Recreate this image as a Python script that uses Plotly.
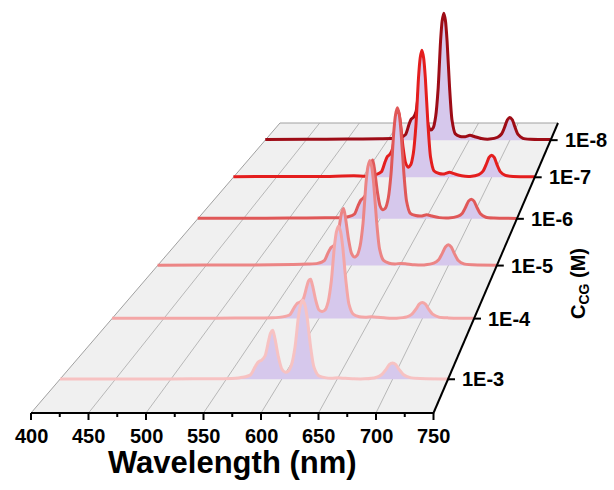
import plotly.graph_objects as go

# ---------------- data ----------------
WAVELENGTH = [400, 450, 500, 540, 555, 565, 572, 576, 579, 582, 585, 588, 590, 592, 594,
              597, 600, 603, 606, 609, 612, 615, 617, 619, 621, 623, 626, 629, 633, 639,
              645, 651, 657, 665, 675, 685, 690, 694, 697, 700, 703, 706, 710, 716, 725, 750]

CONC_LABELS = ["1E-3", "1E-4", "1E-5", "1E-6", "1E-7", "1E-8"]

I_1E3 = [0.3, 0.3, 0.4, 0.6, 0.8, 2.0, 4.7, 12.9, 18.0, 19.9, 24.2, 39.0, 48.1, 50.8, 41.9,
         23.4, 10.9, 7.4, 8.5, 15.6, 33.2, 64.0, 77.1, 82.0, 77.1, 64.0, 34.4, 13.1, 4.1, 1.7,
         1.0, 1.5, 1.0, 0.5, 0.5, 1.9, 4.7, 10.1, 15.2, 16.9, 15.2, 10.1, 4.7, 1.7, 0.8, 0.3]
I_1E4 = [0.4, 0.4, 0.5, 0.7, 0.9, 1.9, 4.4, 12.1, 16.9, 18.5, 22.2, 34.4, 41.9, 43.8, 36.1,
         20.2, 9.7, 8.0, 9.5, 19.0, 41.6, 80.3, 96.8, 103.0, 96.8, 80.3, 43.3, 16.5, 5.2, 2.0,
         1.5, 2.0, 1.5, 0.6, 0.5, 1.9, 5.0, 10.7, 16.0, 17.8, 16.0, 10.7, 4.9, 1.7, 0.8, 0.4]
I_1E5 = [0.5, 0.6, 0.8, 1.2, 1.8, 2.6, 5.8, 15.4, 21.5, 23.7, 29.5, 50.2, 63.3, 67.6, 56.0,
         31.4, 14.7, 10.1, 12.3, 23.5, 50.4, 97.2, 117.1, 124.6, 117.1, 97.2, 52.3, 19.9, 6.2, 2.7,
         2.0, 2.6, 2.0, 1.0, 0.8, 2.8, 6.8, 15.1, 22.1, 24.6, 22.1, 14.8, 6.4, 2.0, 0.9, 0.5]
I_1E6 = [0.6, 0.7, 0.9, 1.2, 1.5, 2.6, 6.1, 17.0, 23.8, 26.5, 32.9, 55.4, 69.5, 74.1, 61.3,
         34.4, 16.2, 11.3, 13.8, 26.2, 56.6, 109.2, 131.6, 140.0, 131.6, 109.2, 58.8, 22.4, 7.0, 4.1,
         3.5, 5.0, 3.5, 1.5, 1.0, 3.0, 6.8, 15.2, 22.3, 24.8, 22.3, 14.9, 6.4, 2.0, 0.9, 0.5]
I_1E7 = [0.8, 1.0, 1.0, 2.0, 1.5, 3.2, 7.3, 19.9, 27.8, 30.9, 38.5, 65.4, 82.4, 88.0, 72.9,
         40.9, 19.3, 13.5, 16.6, 31.7, 68.6, 132.3, 159.4, 169.6, 159.4, 132.3, 71.2, 27.1, 8.5, 5.0,
         4.5, 6.7, 4.5, 2.0, 1.2, 3.6, 8.2, 18.1, 26.5, 29.4, 26.5, 17.6, 7.6, 2.5, 1.2, 0.8]
I_1E8 = [1.0, 1.2, 1.5, 2.0, 2.2, 3.5, 7.8, 21.2, 29.5, 32.6, 40.6, 68.6, 86.3, 92.0, 76.3,
         42.8, 20.2, 14.2, 17.4, 33.4, 72.4, 139.6, 168.3, 179.0, 168.3, 139.6, 75.2, 28.6, 9.0, 5.2,
         4.8, 7.0, 4.8, 2.2, 1.5, 4.1, 9.0, 19.7, 28.8, 32.0, 28.8, 19.2, 8.0, 2.6, 1.2, 1.0]

SERIES = [I_1E3, I_1E4, I_1E5, I_1E6, I_1E7, I_1E8]
LINE_COLORS = ["#f7c2c2", "#f4a6a6", "#ec8585", "#e05858", "#e41e1e", "#9e0c16"]
FILL_COLOR = "#d6c8ec"

X_TICKS = [400, 450, 500, 550, 600, 650, 700, 750]
X_MINOR = [425, 475, 525, 575, 625, 675, 725]

# ---------------- projection (perspective floor) ----------------
WL_MIN, WL_MAX = 400.0, 750.0
X_FRONT_L, X_FRONT_R, Y_FRONT = 31.0, 433.5, 413.0
VX, VY = 836.0, -524.6
DEPTH_K = 0.07463
Z_MAX = 6.0
ROW_Z = [0.5 + i for i in range(len(CONC_LABELS))]


def persp(z):
    return 1.0 / (1.0 + DEPTH_K * z)


def proj(wl, z, h=0.0):
    f = persp(z)
    x0 = X_FRONT_L + (wl - WL_MIN) / (WL_MAX - WL_MIN) * (X_FRONT_R - X_FRONT_L)
    return VX + (x0 - VX) * f, VY + (Y_FRONT - VY) * f - h * f


fig = go.Figure()

# floor
corners = [proj(WL_MIN, 0), proj(WL_MAX, 0), proj(WL_MAX, Z_MAX), proj(WL_MIN, Z_MAX)]
path = "M " + " L ".join(f"{x:.2f},{y:.2f}" for x, y in corners) + " Z"
shapes = [dict(type="path", path=path, xref="x", yref="y", fillcolor="#f0f0f0",
               line=dict(width=0), layer="below")]
for a, b in [(proj(WL_MIN, 0), proj(WL_MIN, Z_MAX)), (proj(WL_MIN, Z_MAX), proj(WL_MAX, Z_MAX))]:
    shapes.append(dict(type="line", xref="x", yref="y", x0=a[0], y0=a[1], x1=b[0], y1=b[1],
                       line=dict(color="#a0a0a0", width=1), layer="below"))
for wl in X_TICKS[1:-1]:
    a, b = proj(wl, 0), proj(wl, Z_MAX)
    shapes.append(dict(type="line", xref="x", yref="y", x0=a[0], y0=a[1], x1=b[0], y1=b[1],
                       line=dict(color="#a8a8a8", width=0.8), layer="below"))

# spectra from back to front
for i in reversed(range(len(CONC_LABELS))):
    z = ROW_Z[i]
    bx0, by0 = proj(WL_MIN, z)
    bx1, by1 = proj(WL_MAX, z)
    fig.add_trace(go.Scatter(x=[bx0, bx1], y=[by0, by1], mode="lines",
                             line=dict(width=0, color="rgba(0,0,0,0)"),
                             showlegend=False, hoverinfo="skip"))
    pts = [proj(w, z, v) for w, v in zip(WAVELENGTH, SERIES[i])]
    fig.add_trace(go.Scatter(x=[p[0] for p in pts], y=[p[1] for p in pts], mode="lines",
                             line=dict(color=LINE_COLORS[i], width=3, shape="spline", smoothing=0.6),
                             fill="tonexty", fillcolor=FILL_COLOR,
                             showlegend=False, hoverinfo="skip"))

# axes (black)
fa, fb = proj(WL_MIN, 0), proj(WL_MAX, 0)
shapes.append(dict(type="line", xref="x", yref="y", x0=fa[0], y0=fa[1], x1=fb[0], y1=fb[1],
                   line=dict(color="black", width=2), layer="above"))
ra, rb = proj(WL_MAX, 0), proj(WL_MAX, Z_MAX)
shapes.append(dict(type="line", xref="x", yref="y", x0=ra[0], y0=ra[1], x1=rb[0], y1=rb[1],
                   line=dict(color="black", width=2), layer="above"))
for wl in X_TICKS:
    x, y = proj(wl, 0)
    shapes.append(dict(type="line", xref="x", yref="y", x0=x, y0=y, x1=x, y1=y + 7,
                       line=dict(color="black", width=2), layer="above"))
for wl in X_MINOR:
    x, y = proj(wl, 0)
    shapes.append(dict(type="line", xref="x", yref="y", x0=x, y0=y, x1=x, y1=y + 4,
                       line=dict(color="black", width=2), layer="above"))
for z in ROW_Z:
    x, y = proj(WL_MAX, z)
    shapes.append(dict(type="line", xref="x", yref="y", x0=x, y0=y, x1=x + 7, y1=y,
                       line=dict(color="black", width=2), layer="above"))

FONT = "Liberation Sans, Arial, sans-serif"
annotations = []
for wl in X_TICKS:
    x, y = proj(wl, 0)
    annotations.append(dict(x=x, y=y + 23, xref="x", yref="y", text=f"<b>{wl}</b>",
                            showarrow=False, xanchor="center", yanchor="middle",
                            font=dict(family=FONT, size=20, color="black")))
annotations.append(dict(x=232, y=462, xref="x", yref="y", text="<b>Wavelength (nm)</b>",
                        showarrow=False, xanchor="center", yanchor="middle",
                        font=dict(family=FONT, size=31, color="black")))
for lab, z in zip(CONC_LABELS, ROW_Z):
    x, y = proj(WL_MAX, z)
    annotations.append(dict(x=x + 12, y=y, xref="x", yref="y", text=f"<b>{lab}</b>",
                            showarrow=False, xanchor="left", yanchor="middle",
                            font=dict(family=FONT, size=20, color="black")))
annotations.append(dict(x=579, y=284, xref="x", yref="y", text="<b>C<sub>CG</sub> (M)</b>",
                        showarrow=False, xanchor="center", yanchor="middle", textangle=-90,
                        font=dict(family=FONT, size=20, color="black")))

fig.update_layout(
    width=614, height=490, autosize=False,
    margin=dict(l=0, r=0, t=0, b=0, pad=0),
    paper_bgcolor="white", plot_bgcolor="white",
    xaxis=dict(range=[0, 614], visible=False, fixedrange=True),
    yaxis=dict(range=[490, 0], visible=False, fixedrange=True),
    shapes=shapes, annotations=annotations, showlegend=False,
)

fig.write_html("out.html")
